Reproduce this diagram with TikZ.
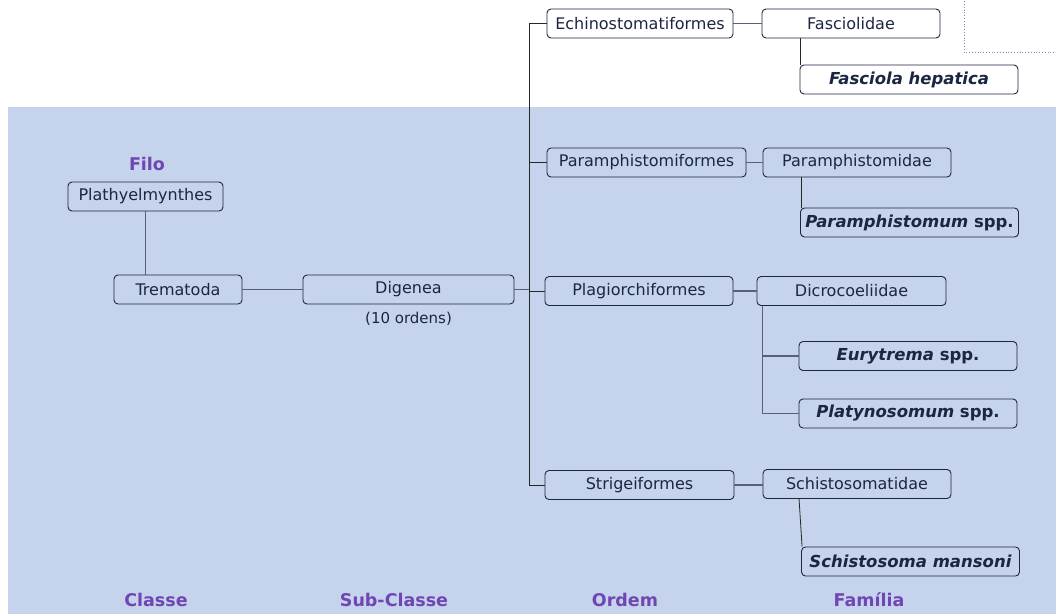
\documentclass[tikz,border=0pt]{standalone}
\usepackage{fontspec}
\setmainfont{DejaVu Sans}
\usetikzlibrary{positioning,calc}
\definecolor{panelblue}{RGB}{197,211,236}
\definecolor{inkblue}{RGB}{27,38,66}
\definecolor{rankpurple}{RGB}{112,70,178}
\definecolor{linkgray}{RGB}{88,96,118}
\definecolor{dotblue}{RGB}{110,140,200}

\begin{document}
\begin{tikzpicture}[x=1pt,y=-1pt,
    taxon/.style={draw=inkblue, line width=0.9pt, rounded corners=4pt, text=inkblue,
        minimum height=29pt, inner sep=0pt, font=\fontsize{16}{18}\selectfont},
    species/.style={taxon, font=\fontsize{16.5}{18}\selectfont\bfseries},
    rank/.style={text=rankpurple, font=\fontsize{17.5}{20}\selectfont\bfseries},
    link/.style={draw=linkgray, line width=1.1pt},
    spineline/.style={draw=black!85, line width=0.8pt}]
    \useasboundingbox (0,0) rectangle (1056,614);

    % Panel and frame
    \fill[panelblue] (8,107) rectangle (1056,614);
    \draw[dotblue, dotted, line width=0.8pt] (964,-10) rectangle (1070,52);

    % Taxa
    \foreach \n/\x/\y/\w/\t in {plat/145.5/196.5/155/Plathyelmynthes,
        trem/178/289.5/128/Trematoda, dig/408.5/289.5/211/Digenea,
        ech/640/23.5/186/Echinostomatiformes, fas/851/23.5/178/Fasciolidae,
        parf/646.5/162.5/199/Paramphistomiformes, pard/857/162.5/188/Paramphistomidae,
        plag/639/291/188/Plagiorchiformes, dic/851.5/291/189/Dicrocoeliidae,
        str/639.5/485/189/Strigeiformes, sch/857/484/188/Schistosomatidae} {
        \node[taxon, minimum width=\w pt] (\n) at (\x,\y) {\t};
    }

    % Species
    \foreach \n/\x/\y/\t in {fhep/909/79.5/{\textit{Fasciola hepatica}},
        pspp/909.5/222.5/{\textit{Paramphistomum} spp.},
        eur/908/356/{\textit{Eurytrema} spp.},
        platy/908/413.5/{\textit{Platynosomum} spp.},
        sman/910.5/561.5/{\textit{Schistosoma mansoni}}} {
        \node[species, minimum width=218pt] (\n) at (\x,\y) {\t};
    }
    \node[below=4pt of dig, text=inkblue, font=\fontsize{15}{17}\selectfont] (ordens) {(10 ordens)};

    % Rank labels
    \node[rank] (filo) at (147,164) {Filo};
    \foreach \n/\x/\t in {classe/156/Classe, subclasse/394/Sub-Classe,
        ordem/625/Ordem, familia/869/Família} {
        \node[rank] (\n) at (\x,600) {\t};
    }

    % Connectors
    \draw[link] (plat.south) -- (plat.south |- trem.north);
    \draw[link] (trem) -- (dig);
    \coordinate (spine) at (529,289.5);
    \draw[link] (dig.east) -- (spine);
    \foreach \o in {ech,parf,plag,str} {
        \draw[spineline] (spine) |- (\o.west);
    }
    \draw[link] (ech) -- (fas);
    \draw[link] (parf) -- (pard);
    \draw[link] (plag.east) -- (dic.west |- plag.east);
    \draw[link] (str.east) -- (sch.west |- str.east);
    \draw[spineline] ([xshift=1pt]fhep.north west |- fas.south) -- ([xshift=1pt]fhep.north west);
    \draw[spineline] ([xshift=1pt]pspp.north west |- pard.south) -- ([xshift=1pt]pspp.north west);
    \draw[link] ([xshift=6pt]dic.south west) |- (eur.west);
    \draw[link] ([xshift=6pt]dic.south west) |- (platy.west);
    \draw[spineline] ([xshift=-2pt]sman.north west |- sch.south) -- ([xshift=1pt]sman.north west);
\end{tikzpicture}
\end{document}
